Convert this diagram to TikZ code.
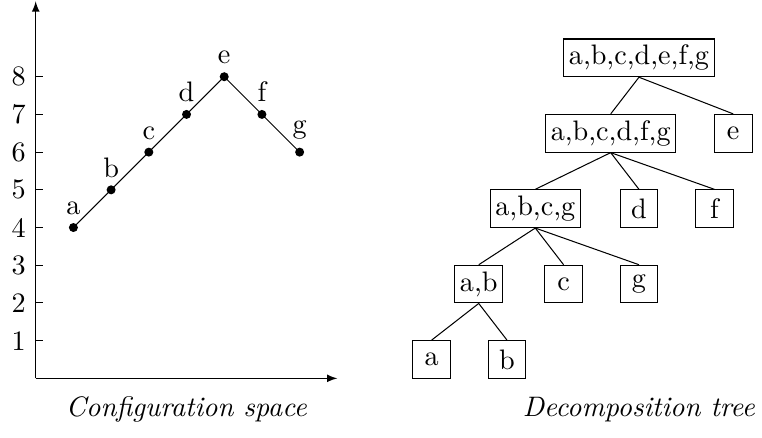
\documentclass[11pt,tikz,border=0pt]{standalone}
\usetikzlibrary{arrows}

\begin{document}
\begin{tikzpicture}[x=0.515cm, y=0.515cm, >=latex,
    setbox/.style={draw, minimum width=0.515cm, minimum height=0.515cm, inner xsep=2pt, inner ysep=2.25pt}]
    \useasboundingbox (-0.947,-1.557) rectangle (19.263,10.035);

    % Draw the axes
    \draw[->] (0,0) -- (0,10);
    \draw[->] (0,0) -- (8,0);
    \foreach \i in {1,...,8} {
        \draw (0,\i) -- (0.2,\i);
        \node at (0,\i) [left] {\i};
    }

    % Define the points of the path
    \coordinate (a) at (1,4);
    \coordinate (b) at (2,5);
    \coordinate (c) at (3,6);
    \coordinate (d) at (4,7);
    \coordinate (e) at (5,8);
    \coordinate (f) at (6,7);
    \coordinate (g) at (7,6);

    % Draw the path
    \draw (a) -- (b) -- (c) -- (d) -- (e) -- (f) -- (g);
    \foreach \p in {a,b,c,d,e,f,g} {
        \fill (\p) circle (1.75pt);
        \node at (\p) [above=1pt] {\p};
    }

    % Place the tree nodes
    \node[setbox] (abcdefg) at (16,8.5) {a,b,c,d,e,f,g};
    \node[setbox] (abcdfg) at (15.25,6.5) {a,b,c,d,f,g};
    \node[setbox] (e1) at (18.5,6.5) {e};
    \node[setbox] (abcg) at (13.25,4.5) {a,b,c,g};
    \node[setbox] (d1) at (16,4.5) {d};
    \node[setbox] (f1) at (18,4.5) {f};
    \node[setbox] (ab) at (11.75,2.5) {a,b};
    \node[setbox] (c1) at (14,2.5) {c};
    \node[setbox] (g1) at (16,2.5) {g};
    \node[setbox] (a1) at (10.5,0.5) {a};
    \node[setbox] (b1) at (12.5,0.5) {b};

    % Draw the tree edges
    \draw (abcdefg.south) -- (abcdfg.north);
    \draw (abcdefg.south) -- (e1.north);
    \draw (abcdfg.south) -- (abcg.north);
    \draw (abcdfg.south) -- (d1.north);
    \draw (abcdfg.south) -- (f1.north);
    \draw (abcg.south) -- (ab.north);
    \draw (abcg.south) -- (c1.north);
    \draw (abcg.south) -- (g1.north);
    \draw (ab.south) -- (a1.north);
    \draw (ab.south) -- (b1.north);

    % Place the captions
    \node (cspace) at (4,-1) [anchor=base] {\textit{Configuration space}};
    \node (dtree) at (16,-1) [anchor=base] {\textit{Decomposition tree}};

\end{tikzpicture}
\end{document}
